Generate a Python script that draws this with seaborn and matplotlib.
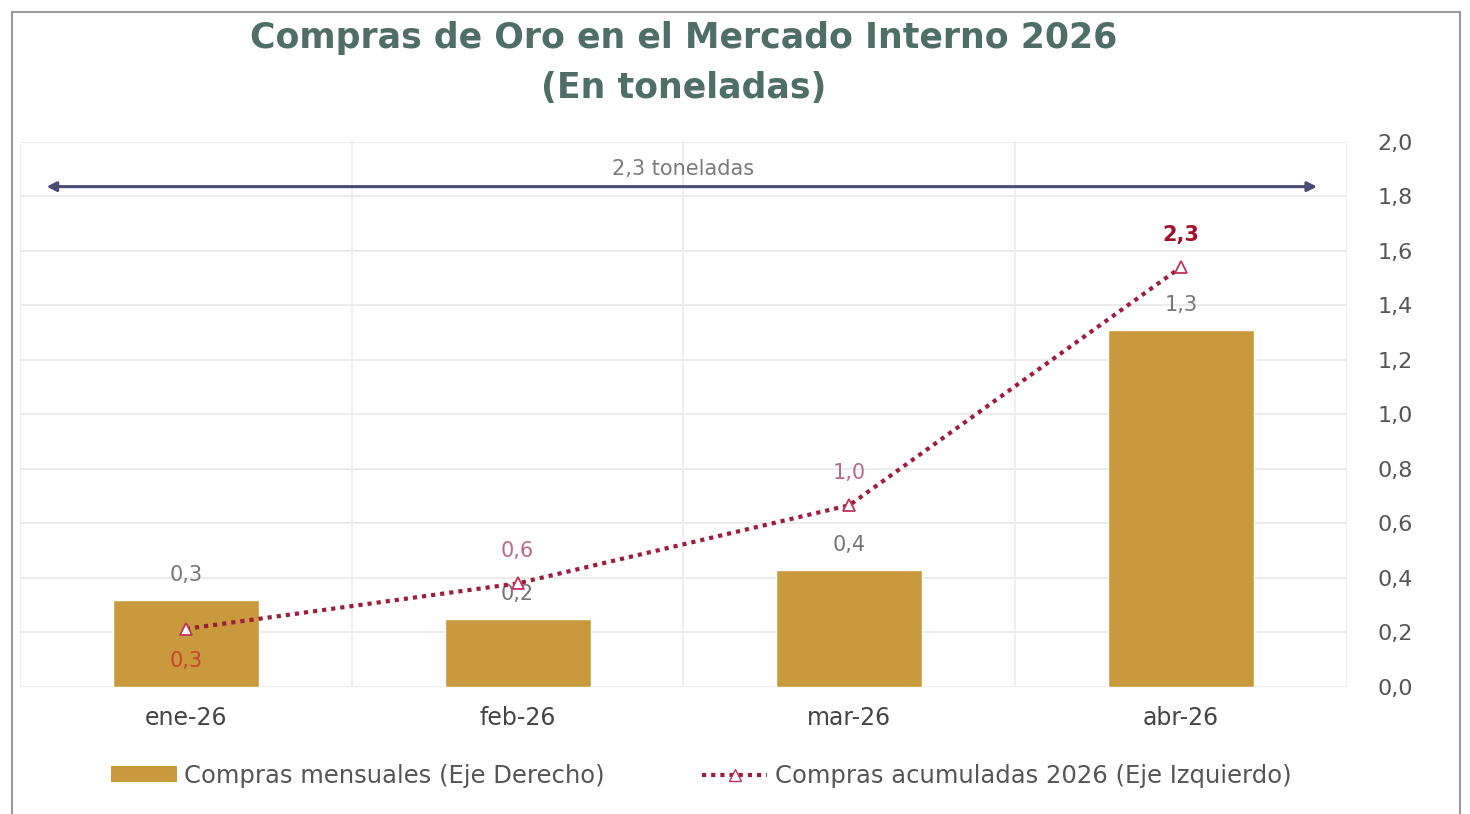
import numpy as np
import matplotlib
matplotlib.use("Agg")
import matplotlib.pyplot as plt
import seaborn as sns
from matplotlib.patches import Rectangle, Patch
from matplotlib.lines import Line2D

# Data
meses = ["ene-26", "feb-26", "mar-26", "abr-26"]
mensual = [0.32, 0.25, 0.43, 1.31]
acumulado = [0.32, 0.57, 1.00, 2.31]
etiq_mensual = ["0,3", "0,2", "0,4", "1,3"]
etiq_acum = ["0,3", "0,6", "1,0", "2,3"]
total_txt = "2,3 toneladas"

sns.set_theme(style="white")
plt.rcParams["font.family"] = ["DejaVu Sans"]

gold = "#C99A3D"
red = "#9E1C3C"
gray_txt = "#767676"
dots = (0, (1, 1.2))

fig = plt.figure(figsize=(14.7, 8.14), dpi=100)
ax = fig.add_axes([0.0136, 0.156, 0.9027, 0.67])

# Bars on the visible (right) axis
sns.barplot(x=meses, y=mensual, color=gold, width=0.44, saturation=1, ax=ax, zorder=2)
ax.set_xlim(-0.5, 3.5)
ax.set_ylim(0, 2.0)
ax.set_xlabel("")
ax.set_ylabel("")
for s in ax.spines.values():
    s.set_visible(False)

# grid
for y in np.arange(0, 2.01, 0.2):
    ax.axhline(y, color="#e8e8e8", lw=1.2, zorder=0)
for x in [-0.5, 0.5, 1.5, 2.5, 3.5]:
    ax.axvline(x, color="#ececec", lw=1.2, zorder=0)

for i, (v, t) in enumerate(zip(mensual, etiq_mensual)):
    ax.annotate(t, (i, v), xytext=(0, 18), textcoords="offset points",
                ha="center", va="center", fontsize=15, color=gray_txt)

# Cumulative line on hidden left axis
ax2 = ax.twinx()
ax2.set_ylim(0, 3.0)
sns.lineplot(x=np.arange(len(meses)), y=acumulado, ax=ax2, color=red, lw=3,
             linestyle=dots, dash_capstyle="butt", marker="^",
             markersize=9, markerfacecolor="white", markeredgecolor="#c0345a",
             markeredgewidth=1.3, zorder=3)
ax2.set_yticks([])
ax2.set_ylabel("")
for s in ax2.spines.values():
    s.set_visible(False)

# right-hand ticks (twinx resets tick side, so set after)
ax.yaxis.tick_right()
ax.set_yticks(np.arange(0, 2.01, 0.2))
ax.set_yticklabels([f"{v:.1f}".replace(".", ",") for v in np.arange(0, 2.01, 0.2)])
ax.tick_params(axis="y", labelsize=16, colors="#555555", length=0, pad=22)
ax.tick_params(axis="x", labelsize=17, colors="#444444", length=0, pad=14)

lab_col = ["#c8452e", "#b86a8c", "#b86a8c", "#a3102c"]
lab_w = ["normal", "normal", "normal", "bold"]
lab_off = [-23, 23, 23, 23]
for i, (v, t) in enumerate(zip(acumulado, etiq_acum)):
    ax2.annotate(t, (i, v), xytext=(0, lab_off[i]), textcoords="offset points",
                 ha="center", va="center", fontsize=15, color=lab_col[i],
                 fontweight=lab_w[i])

# Total arrow
ax.annotate("", xy=(-0.42, 1.835), xytext=(3.41, 1.835),
            arrowprops=dict(arrowstyle="<|-|>", color="#4b4b78", lw=2.2,
                            mutation_scale=14, shrinkA=0, shrinkB=0))
ax.text(1.5, 1.9, total_txt, ha="center", va="center", fontsize=15, color="#7a7a7a")

# Title
fig.text(0.465, 0.953, "Compras de Oro en el Mercado Interno 2026", ha="center", va="center",
         fontsize=25, fontweight="bold", color="#4f6e66")
fig.text(0.465, 0.892, "(En toneladas)", ha="center", va="center",
         fontsize=25, fontweight="bold", color="#4f6e66")

# Legend
handles = [Patch(facecolor=gold, edgecolor="none"),
           Line2D([], [], color=red, lw=3, linestyle=dots, dash_capstyle="butt",
                  marker="^", markersize=9, markerfacecolor="white",
                  markeredgecolor="#c0345a")]
fig.legend(handles, ["Compras mensuales (Eje Derecho)", "Compras acumuladas 2026 (Eje Izquierdo)"],
           loc="center", bbox_to_anchor=(0.477, 0.047), ncol=2, frameon=False,
           fontsize=17.5, handlelength=2.7, handleheight=0.6, handletextpad=0.3,
           columnspacing=4.0, labelcolor="#555555")

# Frame around the figure
fig.patches.append(Rectangle((12 / 1470, -0.01), 1448 / 1470, 1 - 12 / 814 + 0.01,
                             transform=fig.transFigure, fill=False,
                             edgecolor="#9a9a9a", lw=1.5, zorder=0))

fig.savefig("out.png", dpi=100)
